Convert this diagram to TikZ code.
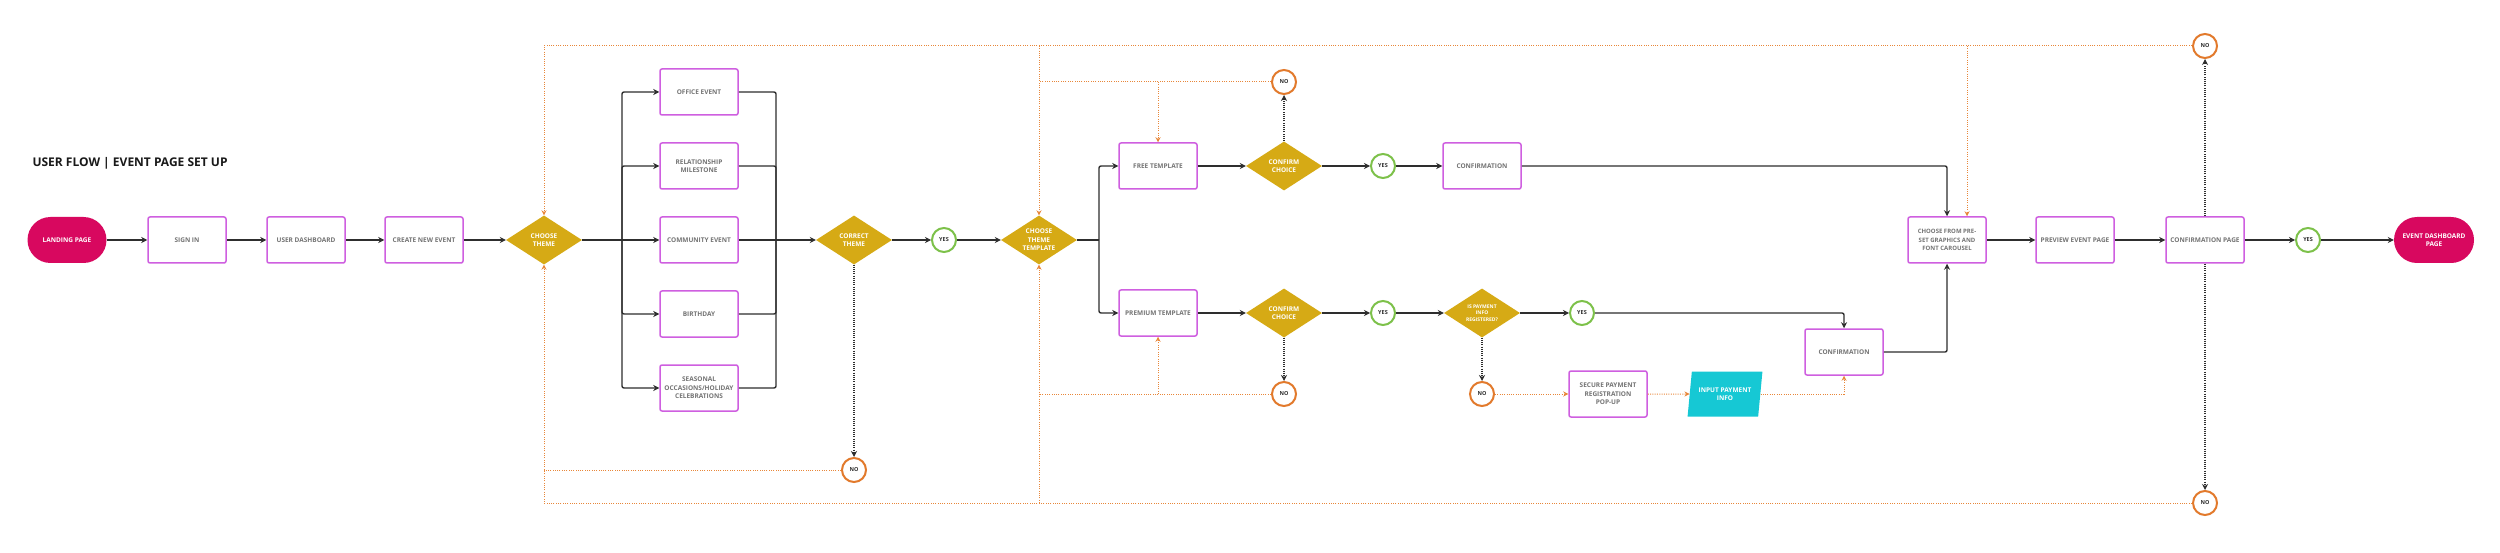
\documentclass[tikz,border=0pt]{standalone}
\usepackage{fontspec}
\setmainfont{Open Sans}
\usetikzlibrary{shapes.geometric,arrows.meta,calc}
\definecolor{pinkc}{HTML}{D8085F}
\definecolor{boxb}{HTML}{CF5FE0}
\definecolor{gold}{HTML}{D6AA15}
\definecolor{yesg}{HTML}{7DC14A}
\definecolor{noo}{HTML}{E27A2C}
\definecolor{orl}{HTML}{E8873A}
\definecolor{cyanp}{HTML}{16C8D4}
\definecolor{txtg}{HTML}{737373}
\definecolor{linec}{HTML}{2E2E2E}
\begin{document}
\begin{tikzpicture}[x=1pt,y=-1pt,
  proc/.style={draw=boxb, line width=1.5pt, rounded corners=2pt, fill=white, minimum width=78pt, minimum height=46pt, align=center, font=\bfseries\fontsize{6.5}{8.5}\selectfont, text=txtg, inner sep=1pt},
  term/.style={fill=pinkc, rounded corners=23pt, minimum width=79pt, minimum height=46pt, align=center, font=\bfseries\fontsize{6.5}{8.5}\selectfont, text=white, inner sep=1pt},
  dec/.style={diamond, fill=gold, minimum width=76pt, minimum height=49pt, inner sep=0pt, shape aspect=1.55, align=center, text=white, font=\bfseries\fontsize{6.5}{8.5}\selectfont},
  yesc/.style={circle, draw=yesg, line width=2pt, fill=white, minimum size=24pt, inner sep=0pt, font=\bfseries\fontsize{5.5}{6}\selectfont, text=linec},
  noc/.style={circle, draw=noo, line width=2pt, fill=white, minimum size=24pt, inner sep=0pt, font=\bfseries\fontsize{5.5}{6}\selectfont, text=linec},
  flow/.style={draw=linec, line width=1.4pt, rounded corners=2pt, -{Stealth[length=6pt,width=6pt]}},
  plain/.style={draw=linec, line width=1.4pt, rounded corners=2pt},
  dots/.style={draw=linec, line width=1.3pt, dash pattern=on 1pt off 1.2pt, -{Stealth[length=6pt,width=6pt]}},
  back/.style={draw=orl, line width=1pt, dash pattern=on 1pt off 1.3pt, -{Stealth[length=5pt,width=5pt]}},
  backp/.style={draw=orl, line width=1pt, dash pattern=on 1pt off 1.3pt},
]
\useasboundingbox (0,0) rectangle (2500,553);
\fill[white] (0,0) rectangle (2500,553);

\node[anchor=west, font=\bfseries\fontsize{12}{14}\selectfont, text=black!90] (title) at (29,163) {USER FLOW | EVENT PAGE SET UP};

% main row
\node[term] (land) at (67,240) {LANDING PAGE};
\node[proc] (signin) at (187,240) {SIGN IN};
\node[proc] (udash) at (306,240) {USER DASHBOARD};
\node[proc] (cne) at (424,240) {CREATE NEW EVENT};
\node[dec] (ct) at (544,240) {CHOOSE\\THEME};

\node[proc] (office) at (699,92) {OFFICE EVENT};
\node[proc] (rel) at (699,166) {RELATIONSHIP\\MILESTONE};
\node[proc] (comm) at (699,240) {COMMUNITY EVENT};
\node[proc] (bday) at (699,314) {BIRTHDAY};
\node[proc] (seas) at (699,388) {SEASONAL\\OCCASIONS/HOLIDAY\\CELEBRATIONS};

\node[dec] (correct) at (854,240) {CORRECT\\THEME};
\node[yesc] (yes1) at (944,240) {YES};
\node[dec] (ctt) at (1039,240) {CHOOSE\\THEME\\TEMPLATE};

\node[proc] (ft) at (1158,166) {FREE TEMPLATE};
\node[dec] (cc1) at (1284,166) {CONFIRM\\CHOICE};
\node[yesc] (yes2) at (1383,166) {YES};
\node[proc] (conf1) at (1482,166) {CONFIRMATION};
\node[noc] (no1) at (1284,82) {NO};

\node[proc] (pt) at (1158,313) {PREMIUM TEMPLATE};
\node[dec] (cc2) at (1284,313) {CONFIRM\\CHOICE};
\node[yesc] (yes3) at (1383,313) {YES};
\node[dec, font=\bfseries\fontsize{5}{6.5}\selectfont] (pay) at (1482,313) {IS PAYMENT\\INFO\\REGISTERED?};
\node[yesc] (yes4) at (1582,313) {YES};
\node[proc] (conf2) at (1844,352) {CONFIRMATION};
\node[noc] (no2) at (1284,394) {NO};
\node[noc] (no3) at (1482,394) {NO};
\node[proc] (sp) at (1608,394) {SECURE PAYMENT\\REGISTRATION\\POP-UP};
\node[trapezium, trapezium left angle=77, trapezium right angle=103, trapezium stretches=true, fill=cyanp, minimum width=75pt, minimum height=45pt, inner sep=1pt, align=center, text=white, font=\bfseries\fontsize{6.5}{8.5}\selectfont] (ip) at (1725,394) {INPUT PAYMENT\\INFO};

\node[proc, font=\bfseries\fontsize{6}{8.5}\selectfont] (cf) at (1947,240) {CHOOSE FROM PRE-\\SET GRAPHICS AND\\FONT CAROUSEL};
\node[proc] (prev) at (2075,240) {PREVIEW EVENT PAGE};
\node[proc] (cp) at (2205,240) {CONFIRMATION PAGE};
\node[yesc] (yes5) at (2308,240) {YES};
\node[term, minimum width=80pt] (edp) at (2434,240) {EVENT DASHBOARD\\PAGE};

\node[noc] (notop) at (2205,46) {NO};
\node[noc] (nobot) at (2205,503) {NO};
\node[noc] (noct) at (854,470) {NO};

% main flow
\draw[flow] (land) -- (signin);
\draw[flow] (signin) -- (udash);
\draw[flow] (udash) -- (cne);
\draw[flow] (cne) -- (ct);
\coordinate (bL) at (622,240);
\coordinate (bR) at (776,240);
\draw[plain] (ct.east) -- (bL);
\foreach \n in {office,rel,bday,seas} {\draw[flow] (bL) |- (\n.west);}
\draw[flow] (bL) -- (comm.west);
\foreach \n in {office,rel,bday,seas} {\draw[plain] (\n.east) -| (bR);}
\draw[flow] (comm.east) -- (correct.west);
\draw[flow] (correct) -- (yes1);
\draw[flow] (yes1) -- (ctt);
\coordinate (bM) at (1099,240);
\draw[plain] (ctt.east) -- (bM);
\draw[flow] (bM) |- (ft.west);
\draw[flow] (bM) |- (pt.west);
\draw[flow] (ft) -- (cc1);
\draw[flow] (cc1) -- (yes2);
\draw[flow] (yes2) -- (conf1);
\draw[flow] (conf1.east) -| (cf.north);
\draw[flow] (pt) -- (cc2);
\draw[flow] (cc2) -- (yes3);
\draw[flow] (yes3) -- (pay);
\draw[flow] (pay) -- (yes4);
\draw[flow] (yes4.east) -| (conf2.north);
\draw[flow] (conf2.east) -| (cf.south);
\draw[flow] (cf) -- (prev);
\draw[flow] (prev) -- (cp);
\draw[flow] (cp) -- (yes5);
\draw[flow] (yes5) -- (edp);

% dotted to NO
\draw[dots] (cc1.north) -- (no1.south);
\draw[dots] (cc2.south) -- (no2.north);
\draw[dots] (pay.south) -- (no3.north);
\draw[dots] (correct.south) -- (noct.north);
\draw[dots] (cp.north) -- (notop.south);
\draw[dots] (cp.south) -- (nobot.north);

% orange return paths
\coordinate (cfT) at ($(cf.north)+(20,0)$);
\draw[back] (notop.west) -| (ct.north);
\draw[back] (ctt.north |- notop.west) -- (ctt.north);
\draw[back] (cfT |- notop.west) -- (cfT);
\draw[back] (nobot.west) -| (ct.south);
\draw[back] (ctt.south |- nobot.west) -- (ctt.south);
\draw[backp] (noct.west) -- (noct.west -| ct.south);
\draw[backp] (no1.west) -- (no1.west -| ctt.north);
\draw[back] (ft.north |- no1.west) -- (ft.north);
\draw[backp] (no2.west) -- (no2.west -| ctt.south);
\draw[back] (pt.south |- no2.west) -- (pt.south);
\draw[back] (no3) -- (sp);
\draw[back] (sp) -- (ip);
\draw[back] (ip.east) -| (conf2.south);
\end{tikzpicture}
\end{document}
